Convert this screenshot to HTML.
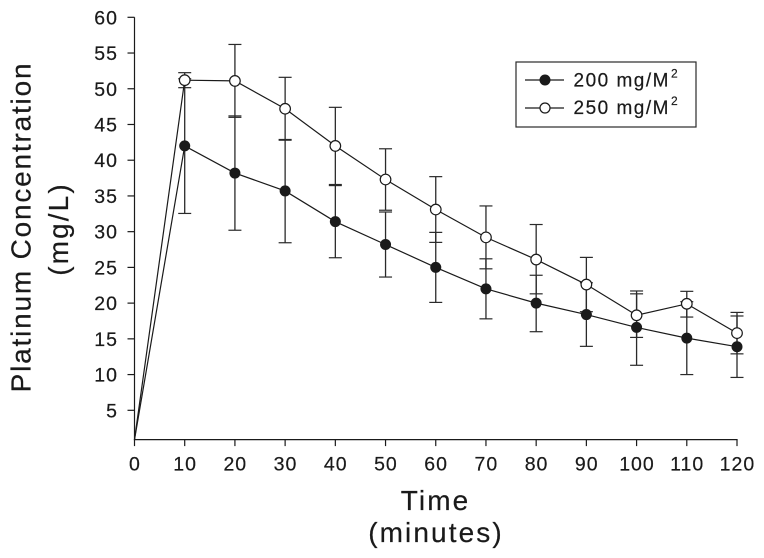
<!DOCTYPE html>
<html lang="en">
<head>
<meta charset="utf-8">
<title>Platinum Concentration vs Time</title>
<style>
html,body{margin:0;padding:0;background:#fff;width:764px;height:558px;overflow:hidden}
svg{display:block;filter:blur(0.3px)}
text{font-family:"Liberation Sans",Arial,sans-serif;fill:#1a1a1a;stroke:#1a1a1a;stroke-width:0.2px}
.tick{font-size:19.5px;letter-spacing:1px}
.title{font-size:28px;letter-spacing:2.1px;text-anchor:middle}
.leg{font-size:19px;letter-spacing:1.5px}
</style>
</head>
<body>
<svg id="chart" xmlns="http://www.w3.org/2000/svg" width="764" height="558" viewBox="0 0 764 558">
  <g id="errors"></g>
  <g id="lines"></g>
  <g id="axes"></g>
  <g id="markers"></g>
  <text class="title" style="letter-spacing:1.8px" x="0" y="0" transform="translate(30.5 227) rotate(-90)">Platinum Concentration</text>
  <text class="title" x="0" y="0" transform="translate(68 229) rotate(-90)">(mg/L)</text>
  <text class="title" x="435.5" y="510">Time</text>
  <text class="title" x="436" y="542">(minutes)</text>
  <g>
    <rect x="516" y="62" width="180" height="65" fill="#fff" stroke="#2a2a2a" stroke-width="1.2"/>
    <line x1="525" y1="80" x2="564" y2="80" stroke="#1a1a1a" stroke-width="1.2"/>
    <circle cx="545" cy="80" r="5.5" fill="#1a1a1a"/>
    <text class="leg" x="573.5" y="86.5">200 mg/M<tspan font-size="12" dy="-9" dx="1">2</tspan></text>
    <line x1="525" y1="108" x2="564" y2="108" stroke="#1a1a1a" stroke-width="1.2"/>
    <circle cx="545" cy="108" r="5" fill="#fff" stroke="#1a1a1a" stroke-width="1.2"/>
    <text class="leg" x="573.5" y="114">250 mg/M<tspan font-size="12" dy="-9" dx="1">2</tspan></text>
  </g>
</svg>
<script>
const times = [10,20,30,40,50,60,70,80,90,100,110,120];
const mean200 = [42.0,38.2,35.7,31.4,28.2,25.0,22.0,20.0,18.4,16.6,15.1,13.9];
const upper200 = [51.4,46.2,42.9,36.45,32.75,29.9,26.2,23.9,22.85,21.7,20.2,18.7];
const lower200 = [32.55,30.2,28.45,26.35,23.65,20.1,17.8,16.0,13.95,11.3,10.0,9.6];
const mean250 = [51.2,51.1,47.2,42.0,37.3,33.1,29.2,26.1,22.6,18.3,19.9,15.8];
const upper250 = [52.25,56.2,51.6,47.4,41.6,37.7,33.6,31.0,26.4,21.3,21.65,18.2];
const lower250 = [50.15,46.0,42.8,36.6,33.0,28.5,24.8,21.3,18.8,15.2,18.05,12.9];
const startTime = 0;
const startValue = 0.9;
const xTicks = [0,10,20,30,40,50,60,70,80,90,100,110,120];
const yTicks = [5,10,15,20,25,30,35,40,45,50,55,60];

const NS = 'http://www.w3.org/2000/svg';
const INK = '#1a1a1a';
function xScale(t){ return 134.5 + (t - 0) * (737 - 134.5) / (120 - 0); }
function yScale(v){ return 439.6 - (v - 0.9) * (439.6 - 17.3) / (60 - 0.9); }
function make(tag, attrs, parent){
  const el = document.createElementNS(NS, tag);
  for (const k in attrs) el.setAttribute(k, attrs[k]);
  parent.appendChild(el);
  return el;
}
const axes = document.getElementById('axes');
const errors = document.getElementById('errors');
const lines = document.getElementById('lines');
const markers = document.getElementById('markers');
const AXIS = {stroke:INK,'stroke-width':1.2,fill:'none'};

const yLine = make('line', Object.assign({x1:xScale(0),y1:yScale(60),x2:xScale(0),y2:yScale(0.9)+0.6}, AXIS), axes);


const xLine = make('line', Object.assign({x1:xScale(0)-0.6,y1:yScale(0.9),x2:xScale(120)+0.6,y2:yScale(0.9)}, AXIS), axes);



xTicks.forEach(function(t){
  const tick = make('line', Object.assign({x1:xScale(t),y1:yScale(0.9),x2:xScale(t),y2:yScale(0.9)+6.5}, AXIS), axes);
  
  
  const label = make('text', {x:xScale(t)+0.4,y:470.7,'text-anchor':'middle','class':'tick'}, axes);
  label.textContent = String(t);
  
  
});
yTicks.forEach(function(v){
  const tick = make('line', Object.assign({x1:xScale(0)-7,y1:yScale(v),x2:xScale(0),y2:yScale(v)}, AXIS), axes);
  
  
  const label = make('text', {x:118,y:yScale(v)+7,'text-anchor':'end','class':'tick'}, axes);
  label.textContent = String(v);
  
  
});

function drawErrors(key, upper, lower){
  times.forEach(function(t, i){
    const x = xScale(t);
    const stem = make('line', {x1:x,y1:yScale(upper[i]),x2:x,y2:yScale(lower[i]),stroke:'#2a2a2a','stroke-width':1.3}, errors);
    
    
    const capU = make('line', {x1:x-6.5,y1:yScale(upper[i]),x2:x+6.5,y2:yScale(upper[i]),stroke:'#2a2a2a','stroke-width':1.2}, errors);
    
    
    const capL = make('line', {x1:x-6.5,y1:yScale(lower[i]),x2:x+6.5,y2:yScale(lower[i]),stroke:'#2a2a2a','stroke-width':1.2}, errors);
    
    
  });
}
function drawSeries(key, values, filled){
  const pts = [[xScale(startTime), yScale(startValue)]].concat(times.map(function(t, i){ return [xScale(t), yScale(values[i])]; }));
  const poly = make('polyline', {points:pts.map(function(p){return p[0]+','+p[1];}).join(' '),fill:'none',stroke:INK,'stroke-width':1.2}, lines);
  
  
  times.forEach(function(t, i){
    const attrs = filled
      ? {cx:xScale(t),cy:yScale(values[i]),r:5.5,fill:INK}
      : {cx:xScale(t),cy:yScale(values[i]),r:5.3,fill:'#fff',stroke:INK,'stroke-width':1.2};
    const dot = make('circle', attrs, markers);
    
    
  });
}
drawErrors('200', upper200, lower200);
drawErrors('250', upper250, lower250);
drawSeries('200', mean200, true);
drawSeries('250', mean250, false);
</script>
</body>
</html>
